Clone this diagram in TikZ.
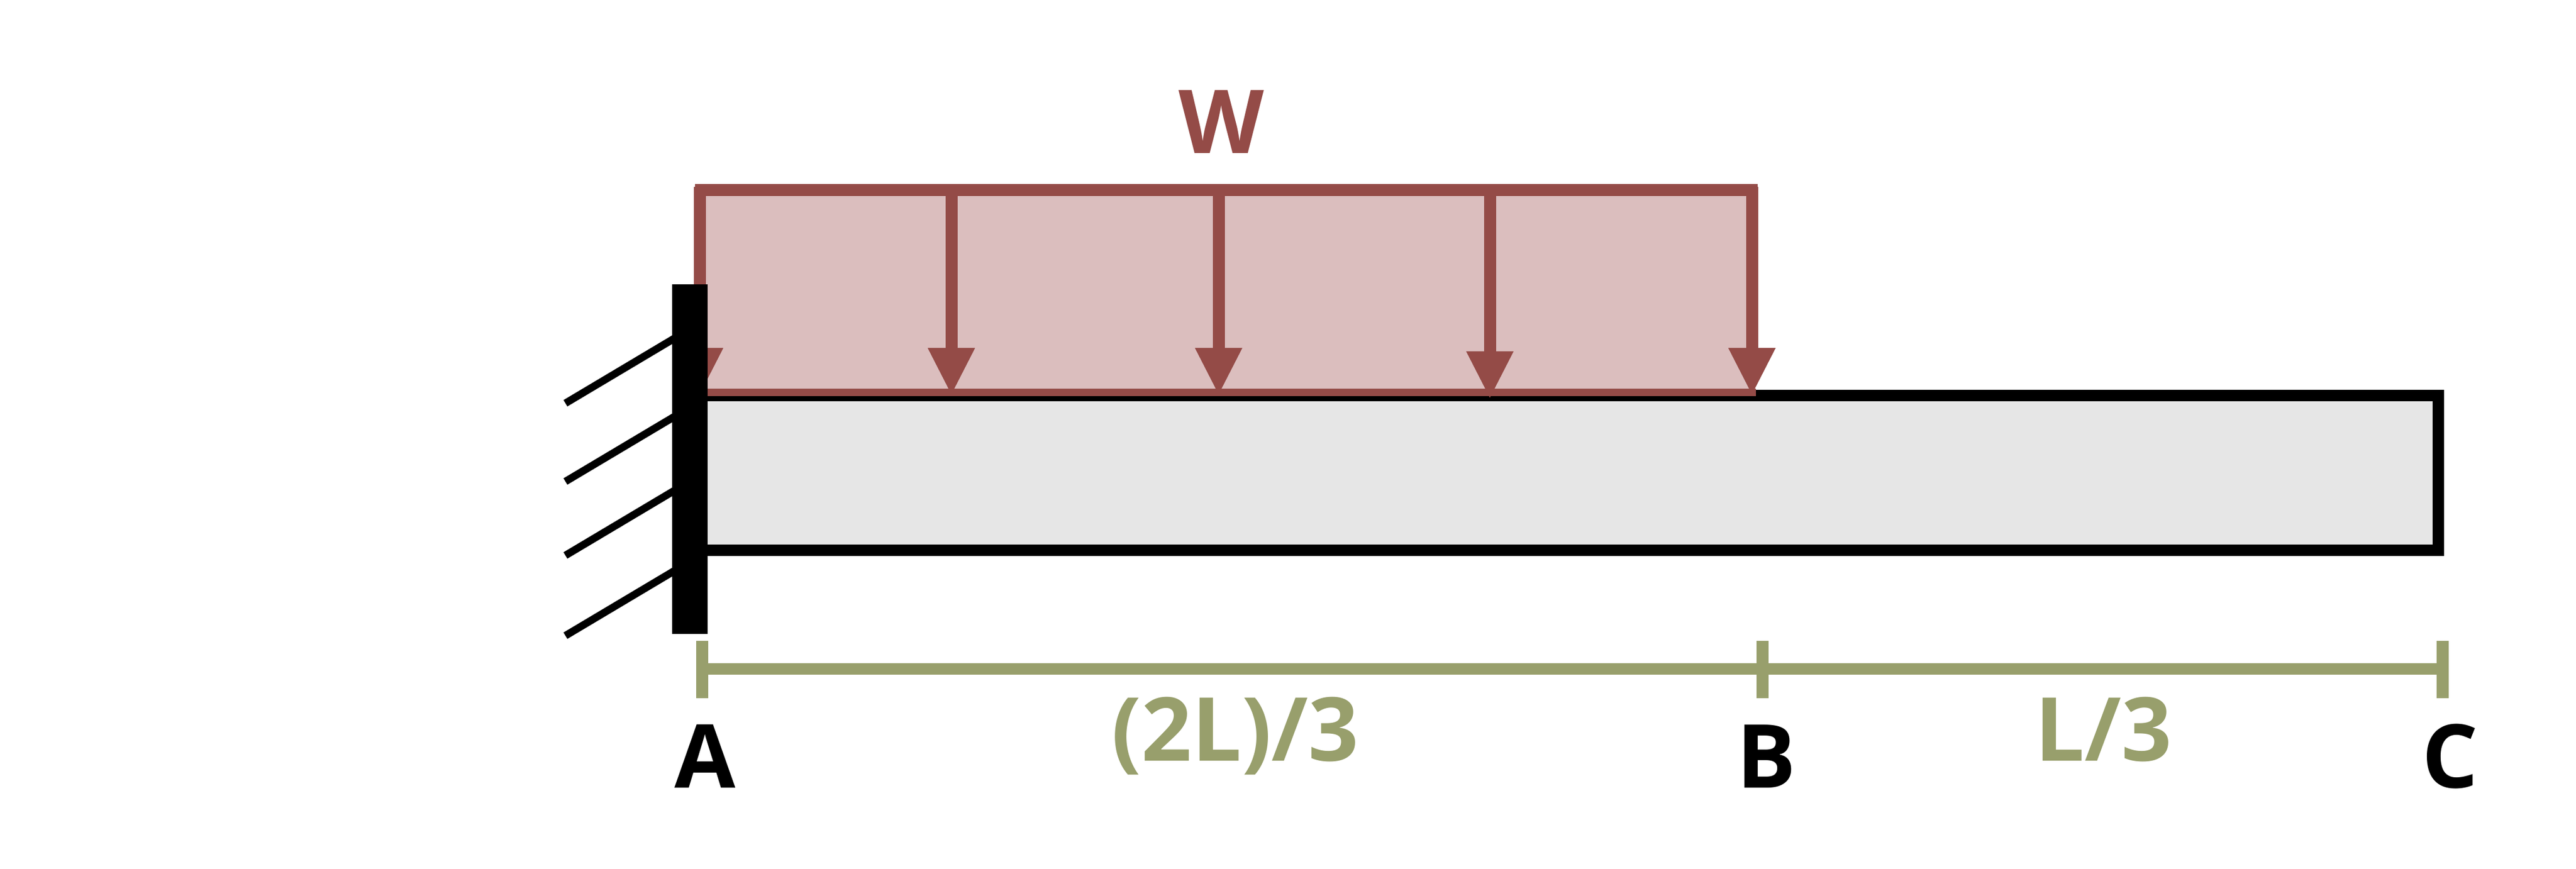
\documentclass[tikz,border=0pt]{standalone}
\usepackage{fontspec}
\setmainfont{Open Sans}
\usetikzlibrary{arrows.meta}

\definecolor{loadred}{HTML}{944B47}
\definecolor{loadfill}{HTML}{DBBEBE}
\definecolor{beamgrey}{HTML}{E6E6E6}
\definecolor{dimgreen}{HTML}{989F6C}

\tikzset{
	loadline/.style={draw=loadred, line width=0.21cm},
	loadarrow/.style={loadline, arrows={-Triangle[length=0.83cm,width=0.76cm]}},
	hatch/.style={draw=black, line width=0.13cm},
	dimline/.style={draw=dimgreen, line width=0.2cm},
	tag/.style={inner sep=0pt, anchor=base, font=\fontsize{43.8}{50}\selectfont\bfseries}
}

\begin{document}
\begin{tikzpicture}
	\useasboundingbox (0,0) rectangle (44.92,15.16);

	% load block
	\fill [loadfill] (12.2,11.86) rectangle (30.55,8.3);

	% beam
	\node [draw, fill=beamgrey, line width=0.2cm, minimum width=30.32cm, minimum height=2.7cm, inner sep=0pt] (beam) at (27.36,6.91) {};

	% load
	\coordinate (Ltl) at (12.12,11.845);
	\coordinate (Ltr) at (30.65,11.845);
	\coordinate (Lbl) at (12.2,8.315);
	\coordinate (Lbr) at (30.62,8.315);
	\draw [loadline] (Ltl) -- (Ltr);
	\draw [draw=loadred, line width=0.13cm] (Lbl) -- (Lbr);

	\coordinate (T1) at (12.2,11.9);
	\coordinate (T2) at (16.59,11.85);
	\coordinate (T3) at (21.25,11.85);
	\coordinate (T4) at (25.98,11.85);
	\coordinate (T5) at (30.55,11.9);
	\coordinate (H1) at (12.2,8.26);
	\coordinate (H2) at (16.59,8.26);
	\coordinate (H3) at (21.25,8.26);
	\coordinate (H4) at (25.98,8.2);
	\coordinate (H5) at (30.55,8.26);
	\draw [loadarrow] (T1) -- (H1);
	\draw [loadarrow] (T2) -- (H2);
	\draw [loadarrow] (T3) -- (H3);
	\draw [loadarrow] (T4) -- (H4);
	\draw [loadarrow] (T5) -- (H5);

	% wall
	\node [fill=black, minimum width=0.62cm, minimum height=6.1cm, inner sep=0pt] (wall) at (12.03,7.15) {};
	\coordinate (S1) at (9.86,8.125);
	\coordinate (S2) at (9.86,6.76);
	\coordinate (S3) at (9.86,5.47);
	\coordinate (S4) at (9.86,4.07);
	\coordinate (E1) at (11.8,9.281);
	\coordinate (E2) at (11.8,7.916);
	\coordinate (E3) at (11.8,6.626);
	\coordinate (E4) at (11.8,5.226);
	\draw [hatch] (S1) -- (E1);
	\draw [hatch] (S2) -- (E2);
	\draw [hatch] (S3) -- (E3);
	\draw [hatch] (S4) -- (E4);

	% dimensions
	\coordinate (Da) at (12.245,3.49);
	\coordinate (Dc) at (42.595,3.49);
	\coordinate (Aup) at (12.245,3.98);
	\coordinate (Adn) at (12.245,2.98);
	\coordinate (Bup) at (30.735,3.98);
	\coordinate (Bdn) at (30.735,2.98);
	\coordinate (Cup) at (42.595,3.98);
	\coordinate (Cdn) at (42.595,2.98);
	\draw [dimline] (Da) -- (Dc);
	\draw [dimline, line width=0.21cm] (Aup) -- (Adn);
	\draw [dimline, line width=0.21cm] (Bup) -- (Bdn);
	\draw [dimline, line width=0.21cm] (Cup) -- (Cdn);

	% labels
	\node [tag, text=loadred] (w) at (21.3,12.48) {W};
	\node [tag, text=dimgreen] (ab) at (21.54,1.88) {(2L)/3};
	\node [tag, text=dimgreen] (bc) at (36.68,1.88) {L/3};
	\node [tag] (A) at (12.3,1.41) {A};
	\node [tag] (B) at (30.8,1.41) {B};
	\node [tag] (C) at (42.72,1.41) {C};
\end{tikzpicture}
\end{document}
